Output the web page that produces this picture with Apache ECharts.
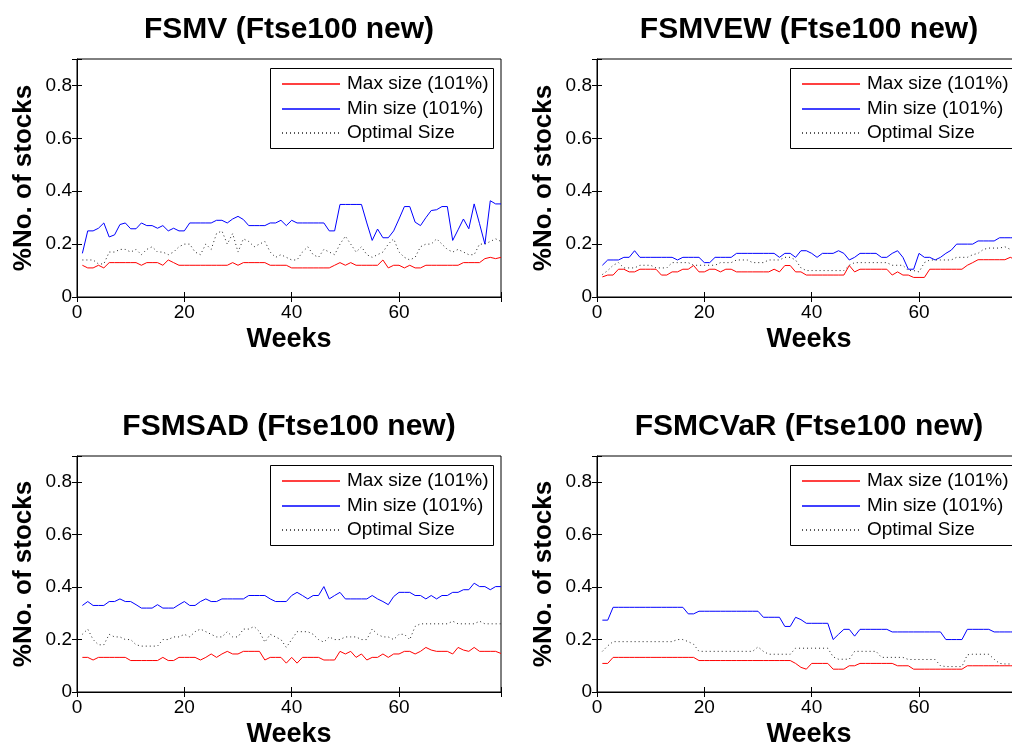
<!DOCTYPE html>
<html>
<head>
<meta charset="utf-8">
<title>Ftse100 portfolio sizes</title>
<script src="https://cdn.jsdelivr.net/npm/echarts@6/dist/echarts.min.js"></script>
<style>
  html, body { margin: 0; padding: 0; background: #fff; overflow: hidden; }
  #chart { width: 1030px; height: 749px; }
</style>
</head>
<body>
<div id="chart"></div>
<script>
// x values (weeks) and tick labels
const weeks = [1, 2, 3, 4, 5, 6, 7, 8, 9, 10, 11, 12, 13, 14, 15, 16, 17, 18, 19, 20,
  21, 22, 23, 24, 25, 26, 27, 28, 29, 30, 31, 32, 33, 34, 35, 36, 37, 38, 39, 40,
  41, 42, 43, 44, 45, 46, 47, 48, 49, 50, 51, 52, 53, 54, 55, 56, 57, 58, 59, 60,
  61, 62, 63, 64, 65, 66, 67, 68, 69, 70, 71, 72, 73, 74, 75, 76, 77, 78, 79];
const xTicks = [0, 20, 40, 60];
const yTicks = [0, 0.2, 0.4, 0.6, 0.8];
const seriesNames = ['Max size (101%)', 'Min size (101%)', 'Optimal Size'];
const panelTitles = ['FSMV (Ftse100 new)', 'FSMVEW (Ftse100 new)', 'FSMSAD (Ftse100 new)', 'FSMCVaR (Ftse100 new)'];

// FSMV
const fsmvMax = [.12, .11, .11, .12, .11, .13, .13, .13, .13, .13,
  .13, .12, .13, .13, .13, .12, .14, .13, .12, .12,
  .12, .12, .12, .12, .12, .12, .12, .12, .13, .12,
  .13, .13, .13, .13, .13, .12, .12, .12, .12, .11,
  .11, .11, .11, .11, .11, .11, .11, .12, .13, .12,
  .13, .12, .12, .12, .12, .12, .14, .11, .12, .12,
  .11, .12, .11, .11, .12, .12, .12, .12, .12, .12,
  .12, .13, .13, .13, .13, .145, .15, .145, .15];
const fsmvMin = [.165, .25, .25, .26, .28, .227, .235, .274, .28, .258,
  .258, .28, .27, .27, .26, .27, .25, .26, .25, .25,
  .28, .28, .28, .28, .28, .29, .29, .28, .295, .305,
  .293, .27, .27, .27, .27, .28, .28, .29, .27, .29,
  .28, .28, .28, .28, .28, .28, .25, .25, .35, .35,
  .35, .35, .35, .28, .214, .257, .224, .224, .25, .295,
  .342, .342, .283, .27, .30, .327, .33, .342, .342, .214,
  .254, .295, .258, .352, .277, .20, .364, .352, .352];
const fsmvOpt = [.14, .14, .14, .125, .125, .17, .17, .18, .18, .17,
  .18, .16, .18, .19, .17, .17, .16, .17, .19, .20,
  .20, .17, .16, .20, .18, .24, .25, .20, .24, .17,
  .22, .21, .19, .20, .21, .17, .15, .16, .15, .14,
  .14, .17, .19, .16, .15, .18, .17, .16, .20, .23,
  .20, .17, .19, .16, .15, .16, .17, .20, .22, .17,
  .15, .14, .15, .19, .20, .20, .22, .20, .18, .17,
  .18, .17, .16, .16, .20, .20, .21, .22, .21];

// FSMVEW
const fsmvewMax = [.076, .083, .083, .105, .105, .095, .095, .105, .105, .105,
  .105, .083, .083, .095, .095, .105, .105, .119, .095, .095,
  .105, .105, .095, .105, .105, .095, .095, .095, .095, .095,
  .095, .095, .105, .095, .119, .119, .095, .095, .083, .083,
  .083, .083, .083, .083, .083, .083, .119, .095, .105, .105,
  .105, .105, .105, .105, .083, .095, .083, .083, .074, .074,
  .074, .105, .105, .105, .105, .105, .105, .105, .12, .13,
  .141, .141, .141, .141, .141, .141, .15, .141, .141];
const fsmvewMin = [.12, .14, .14, .14, .15, .15, .175, .15, .15, .15,
  .15, .15, .15, .15, .14, .15, .15, .15, .15, .13,
  .13, .15, .15, .15, .15, .165, .165, .165, .165, .165,
  .165, .165, .165, .15, .165, .165, .15, .175, .175, .165,
  .15, .165, .165, .165, .175, .165, .14, .15, .165, .165,
  .165, .165, .15, .15, .165, .175, .15, .105, .105, .165,
  .15, .15, .14, .15, .165, .177, .20, .20, .20, .20,
  .212, .212, .212, .212, .224, .224, .224, .224, .224];
const fsmvewOpt = [.085, .10, .12, .13, .11, .11, .11, .12, .12, .12,
  .11, .11, .11, .13, .13, .13, .13, .12, .12, .12,
  .12, .12, .13, .13, .13, .14, .14, .14, .13, .13,
  .13, .14, .14, .14, .15, .15, .14, .11, .10, .10,
  .10, .10, .10, .10, .10, .10, .12, .13, .13, .13,
  .13, .13, .13, .13, .12, .12, .12, .10, .10, .095,
  .13, .14, .14, .14, .14, .14, .15, .15, .15, .16,
  .165, .18, .185, .185, .185, .19, .18, .18, .18];

// FSMSAD
const fsmsadMax = [.132, .132, .122, .132, .132, .132, .132, .132, .132, .12,
  .12, .12, .12, .12, .12, .132, .12, .12, .132, .132,
  .132, .132, .122, .132, .145, .132, .145, .155, .145, .145,
  .155, .155, .155, .155, .122, .132, .132, .132, .11, .132,
  .11, .132, .132, .132, .132, .122, .122, .122, .155, .145,
  .155, .132, .145, .122, .132, .132, .145, .132, .145, .145,
  .155, .155, .145, .155, .17, .16, .155, .155, .155, .145,
  .17, .16, .155, .17, .155, .155, .155, .155, .147];
const fsmsadMin = [.33, .345, .33, .33, .33, .345, .345, .355, .345, .345,
  .333, .32, .32, .32, .333, .32, .32, .32, .333, .345,
  .33, .33, .345, .355, .345, .345, .355, .355, .355, .355,
  .355, .368, .368, .368, .368, .355, .345, .345, .345, .368,
  .38, .368, .355, .368, .368, .402, .355, .368, .38, .355,
  .355, .355, .355, .355, .368, .355, .345, .333, .364, .38,
  .38, .38, .368, .368, .355, .368, .355, .368, .368, .38,
  .38, .39, .39, .415, .402, .402, .39, .402, .402];
const fsmsadOpt = [.22, .24, .20, .18, .18, .22, .21, .21, .20, .20,
  .18, .175, .175, .175, .175, .20, .20, .21, .21, .22,
  .21, .23, .24, .23, .22, .21, .21, .23, .21, .21,
  .24, .24, .25, .23, .19, .22, .21, .20, .17, .20,
  .23, .23, .23, .22, .20, .19, .21, .20, .20, .21,
  .21, .21, .20, .20, .24, .22, .21, .21, .20, .22,
  .22, .20, .25, .26, .26, .26, .26, .26, .26, .27,
  .26, .26, .26, .26, .27, .26, .26, .26, .26];

// FSMCVaR
const fsmcvarMax = [.109, .109, .132, .132, .132, .132, .132, .132, .132, .132,
  .132, .132, .132, .132, .132, .132, .132, .132, .12, .12,
  .12, .12, .12, .12, .12, .12, .12, .12, .12, .12,
  .12, .12, .12, .12, .12, .12, .109, .094, .087, .109,
  .109, .109, .109, .087, .087, .087, .10, .10, .109, .109,
  .109, .109, .109, .109, .109, .10, .10, .10, .087, .087,
  .087, .087, .087, .087, .087, .087, .087, .087, .10, .10,
  .10, .10, .10, .10, .10, .10, .10, .10, .10];
const fsmcvarMin = [.274, .274, .323, .323, .323, .323, .323, .323, .323, .323,
  .323, .323, .323, .323, .323, .323, .298, .298, .308, .308,
  .308, .308, .308, .308, .308, .308, .308, .308, .308, .308,
  .285, .285, .285, .285, .25, .25, .285, .276, .262, .262,
  .262, .262, .262, .20, .22, .239, .239, .213, .239, .239,
  .239, .239, .239, .239, .229, .229, .229, .229, .229, .229,
  .229, .229, .229, .229, .20, .20, .20, .20, .239, .239,
  .239, .239, .239, .229, .229, .229, .229, .229, .229];
const fsmcvarOpt = [.155, .176, .192, .192, .192, .192, .192, .192, .192, .192,
  .192, .192, .192, .192, .20, .20, .192, .182, .155, .155,
  .155, .155, .155, .155, .155, .155, .155, .155, .155, .172,
  .155, .144, .144, .144, .144, .144, .167, .167, .167, .167,
  .167, .167, .167, .134, .125, .125, .125, .155, .155, .155,
  .155, .155, .132, .132, .132, .132, .132, .124, .124, .124,
  .124, .124, .124, .10, .097, .097, .097, .097, .142, .144,
  .144, .144, .144, .125, .109, .107, .107, .107, .107];

const panelData = [
  [fsmvMax, fsmvMin, fsmvOpt],
  [fsmvewMax, fsmvewMin, fsmvewOpt],
  [fsmsadMax, fsmsadMin, fsmsadOpt],
  [fsmcvarMax, fsmcvarMin, fsmcvarOpt]
];

// layout of the four axes boxes (px)
const boxes = [
  { left: 77, top: 59, height: 238 },
  { left: 597, top: 59, height: 238 },
  { left: 77, top: 456, height: 239 },
  { left: 597, top: 456, height: 239 }
];
const BOX_W = 424;
const FONT = '"Liberation Sans", Arial, Helvetica, sans-serif';
const lineColors = ['#ff0000', '#0000ff', '#222222'];
const lineTypes = ['solid', 'solid', [1, 3]];

const chart = echarts.init(document.getElementById('chart'), null, { renderer: 'canvas' });

const tickLine = () => ({ show: true, inside: true, length: 5, lineStyle: { color: '#000', width: 1 } });
const grids = [], xAxes = [], yAxes = [], titles = [], graphics = [], series = [];

// MATLAB-style legend box drawn with graphic elements
function legendBox(x, y) {
  const kids = [{
    type: 'rect', shape: { x: 0.5, y: 0.5, width: 223, height: 80 },
    style: { fill: '#fff', stroke: '#000', lineWidth: 1 }
  }];
  seriesNames.forEach((n, k) => {
    const cy = Math.round(16 + k * 24.5);
    kids.push({
      type: 'line', shape: { x1: 12, y1: cy, x2: 70, y2: cy },
      style: { stroke: lineColors[k], lineWidth: 1.3, lineDash: k === 2 ? [1, 3] : null }
    });
    kids.push({
      type: 'text', x: 77, y: cy,
      style: { text: n, fill: '#000', font: '19px ' + FONT, verticalAlign: 'middle', align: 'left' }
    });
  });
  return { type: 'group', x: x, y: y, z: 100, silent: true, children: kids };
}

boxes.forEach((b, i) => {
  grids.push({
    left: b.left, top: b.top, width: BOX_W, height: b.height,
    show: true, borderColor: '#000', borderWidth: 1, backgroundColor: 'transparent'
  });
  xAxes.push({
    type: 'value', gridIndex: i, position: 'bottom', min: 0, max: 79, interval: 20,
    name: 'Weeks', nameLocation: 'middle', nameGap: 29,
    nameTextStyle: { fontFamily: FONT, fontSize: 27, fontWeight: 'bold', color: '#000' },
    axisLine: { show: true, onZero: false, lineStyle: { color: '#000', width: 1 } },
    axisTick: tickLine(),
    axisLabel: {
      fontFamily: FONT, fontSize: 19, color: '#000', margin: 6,
      formatter: v => (xTicks.indexOf(v) >= 0 ? String(v) : '')
    },
    splitLine: { show: false }
  });
  xAxes.push({
    type: 'value', gridIndex: i, position: 'top', min: 0, max: 79, interval: 20,
    axisLine: { show: false }, axisTick: tickLine(), axisLabel: { show: false }, splitLine: { show: false }
  });
  yAxes.push({
    type: 'value', gridIndex: i, position: 'left', min: 0, max: 0.9, interval: 0.2,
    name: '%No. of stocks', nameLocation: 'middle', nameGap: 40,
    nameTextStyle: { fontFamily: FONT, fontSize: 26, fontWeight: 'bold', color: '#000' },
    axisLine: { show: true, onZero: false, lineStyle: { color: '#000', width: 1 } },
    axisTick: tickLine(),
    axisLabel: {
      fontFamily: FONT, fontSize: 19, color: '#000', margin: 5,
      formatter: v => {
        const t = yTicks.find(t => Math.abs(t - v) < 1e-6);
        return t === undefined ? '' : String(t);
      }
    },
    splitLine: { show: false }
  });
  yAxes.push({
    type: 'value', gridIndex: i, position: 'right', min: 0, max: 0.9, interval: 0.2,
    axisLine: { show: false }, axisTick: tickLine(), axisLabel: { show: false }, splitLine: { show: false }
  });
  titles.push({
    text: panelTitles[i], left: b.left + BOX_W / 2, top: b.top - 44, textAlign: 'center', padding: 0,
    textStyle: { fontFamily: FONT, fontSize: 30, fontWeight: 'bold', color: '#000' }
  });
  graphics.push(legendBox(b.left + 193, b.top + 9));
  panelData[i].forEach((vals, k) => {
    series.push({
      name: seriesNames[k], type: 'line', xAxisIndex: i * 2, yAxisIndex: i * 2,
      data: weeks.map((w, j) => [w, vals[j]]),
      symbol: 'none', showSymbol: false, silent: true,
      lineStyle: { color: lineColors[k], width: 1, type: lineTypes[k] },
      itemStyle: { color: lineColors[k] },
      emphasis: { disabled: true }
    });
  });
});

chart.setOption({
  animation: false,
  backgroundColor: '#fff',
  title: titles,
  grid: grids,
  xAxis: xAxes,
  yAxis: yAxes,
  graphic: graphics,
  series: series
});
</script>
</body>
</html>
